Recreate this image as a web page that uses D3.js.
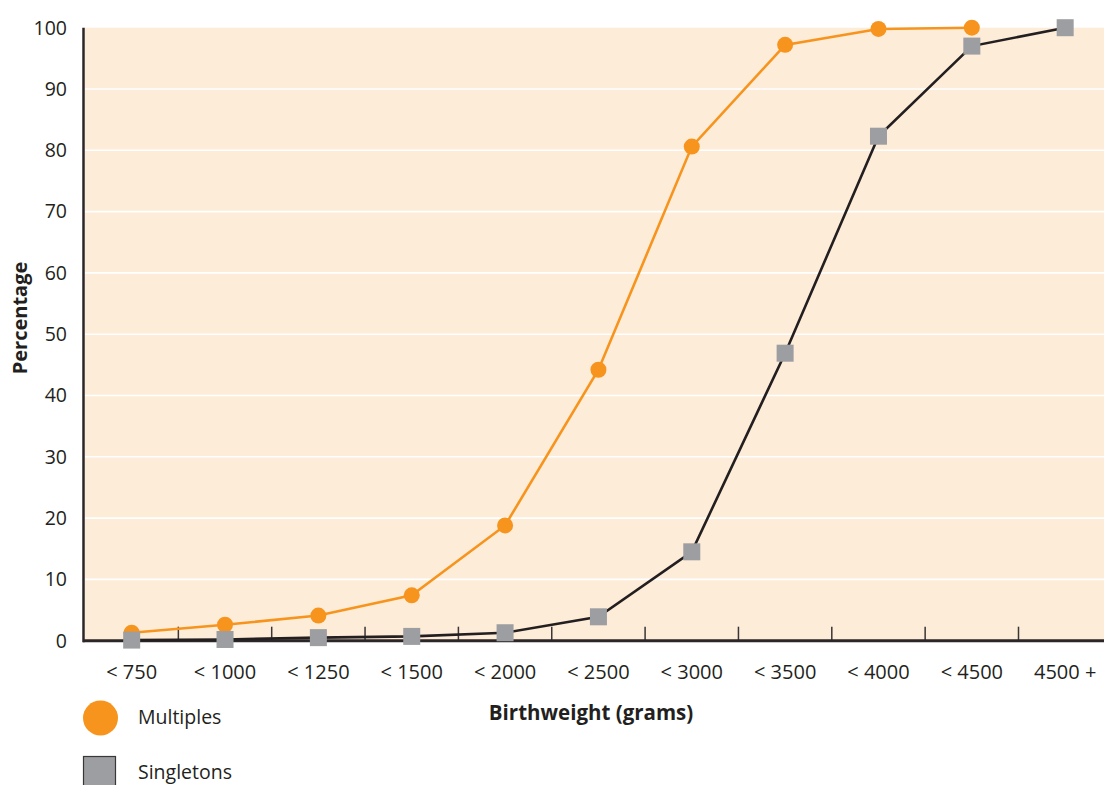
<!DOCTYPE html>
<html><head><meta charset="utf-8">
<script src="https://cdn.jsdelivr.net/npm/d3@7"></script>
<style>
html,body{margin:0;padding:0;background:#fff;overflow:hidden}
svg{display:block;font-family:"Open Sans","Noto Sans",sans-serif}
</style></head>
<body><svg id="c" width="1104" height="785"></svg>
<script>
const categories = ["< 750","< 1000","< 1250","< 1500","< 2000","< 2500","< 3000","< 3500","< 4000","< 4500","4500 +"];
const multiples = [1.3, 2.6, 4.1, 7.4, 18.8, 44.2, 80.6, 97.2, 99.8, 100.0, null];
const singletons = [0.1, 0.2, 0.5, 0.7, 1.3, 3.9, 14.5, 46.9, 82.3, 97.0, 100.0];
const yTicks = [0,10,20,30,40,50,60,70,80,90,100];
const seriesNames = ["Multiples","Singletons"];

(function(){
const svg = d3.select("#c");
const pLeft = 85, pTop = 27.7, pBottom = 640.7;
const x = d3.scaleBand().domain(categories).range([pLeft, pLeft + 93.35*11]).padding(0);
const y = d3.scaleLinear().domain([0,100]).range([pBottom, pTop]);
const txt = "#231f20";

svg.append("rect").attr("x", pLeft).attr("y", pTop).attr("width", 1104-pLeft).attr("height", pBottom-pTop).attr("fill", "#fdecd8");

svg.append("g").selectAll("line").data(yTicks.filter(d=>d>0 && d<100)).join("line")
  .attr("x1", pLeft).attr("x2", 1104).attr("y1", d=>y(d)).attr("y2", d=>y(d))
  .attr("stroke", "#fff").attr("stroke-width", 1.6);

const bounds = categories.slice(1).map(c=>x(c));
svg.append("g").selectAll("line").data(bounds).join("line")
  .attr("x1", d=>d).attr("x2", d=>d).attr("y1", pBottom-14).attr("y2", pBottom)
  .attr("stroke", "#3a3536").attr("stroke-width", 1.5);

svg.append("line").attr("x1", 83.5).attr("x2", 83.5).attr("y1", pTop).attr("y2", pBottom+1.5).attr("stroke", "#2b2627").attr("stroke-width", 2.5);
svg.append("line").attr("x1", 83).attr("x2", 1104).attr("y1", pBottom).attr("y2", pBottom).attr("stroke", "#2b2627").attr("stroke-width", 3);

svg.append("g").selectAll("text").data(yTicks).join("text")
  .attr("x", 67).attr("y", d=>y(d)).attr("dy", "0.35em").attr("text-anchor", "end")
  .attr("font-size", 19.5).attr("fill", txt).text(d=>d);

svg.append("g").selectAll("text").data(categories).join("text")
  .attr("x", d=>x(d)+x.bandwidth()/2).attr("y", 672).attr("dy", "0.35em").attr("text-anchor", "middle")
  .attr("font-size", 20).attr("fill", txt).text(d=>d);

svg.append("text").attr("transform", "translate(20,318) rotate(-90)").attr("dy", "0.35em")
  .attr("text-anchor", "middle").attr("font-size", 20).attr("font-weight", "bold").attr("fill", txt).text("Percentage");
svg.append("text").attr("x", 591).attr("y", 713).attr("dy", "0.35em")
  .attr("text-anchor", "middle").attr("font-size", 20.5).attr("font-weight", "bold").attr("fill", txt).text("Birthweight (grams)");

const cx = d=>x(d.c)+x.bandwidth()/2;
const sData = singletons.map((v,i)=>({c:categories[i], v})).filter(d=>d.v!=null);
const mData = multiples.map((v,i)=>({c:categories[i], v})).filter(d=>d.v!=null);
const line = d3.line().x(cx).y(d=>y(d.v));

svg.append("path").datum(sData).attr("d", line).attr("fill","none").attr("stroke","#231f20").attr("stroke-width",2.6);
svg.append("path").datum(mData).attr("d", line).attr("fill","none").attr("stroke","#f7941d").attr("stroke-width",2.6);
svg.append("g").selectAll("circle").data(mData).join("circle")
  .attr("cx", cx).attr("cy", d=>y(d.v)).attr("r", 8).attr("fill", "#f7941d");
svg.append("g").selectAll("rect").data(sData).join("rect")
  .attr("x", d=>cx(d)-8.5).attr("y", d=>y(d.v)-8.5).attr("width", 17).attr("height", 17).attr("fill", "#9d9ea2");

svg.append("circle").attr("cx", 100.5).attr("cy", 718).attr("r", 17.5).attr("fill", "#f7941d");
svg.append("text").attr("x", 138).attr("y", 717).attr("dy", "0.35em").attr("font-size", 19.5).attr("fill", txt).text(seriesNames[0]);
svg.append("rect").attr("x", 83.5).attr("y", 756.5).attr("width", 32).attr("height", 32).attr("fill", "#9d9ea2").attr("stroke", "#3a3536").attr("stroke-width", 1.2);
svg.append("text").attr("x", 138).attr("y", 772).attr("dy", "0.35em").attr("font-size", 19.5).attr("fill", txt).text(seriesNames[1]);
})();
</script></body></html>
